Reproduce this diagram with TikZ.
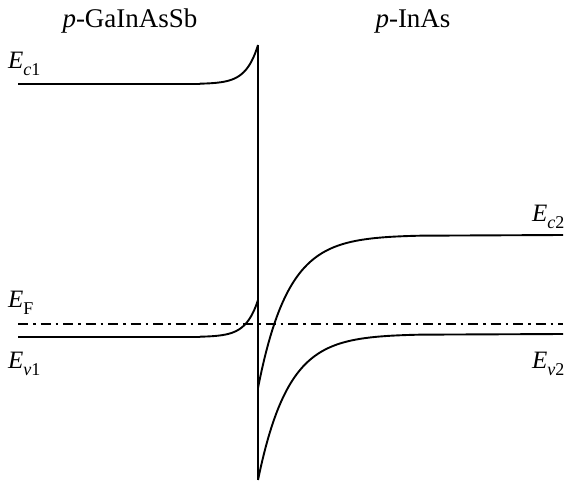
\documentclass[tikz,border=0pt]{standalone}
\usepackage{fontspec}
\setmainfont{Liberation Serif}
\newcommand\elab[2]{\textit{E}\raisebox{-0.28em}{\fontsize{18}{18}\selectfont #1#2}}
\begin{document}
\begin{tikzpicture}[x=1pt,y=-1pt,
  band/.style={line width=1.9pt, line join=round},
  iface/.style={line width=1.2pt},
  fermi/.style={line width=1.6pt, dash pattern=on 10pt off 5pt on 2.5pt off 5pt},
  title/.style={font=\fontsize{27}{27}\selectfont, anchor=base, inner sep=0pt},
  elabel/.style={font=\fontsize{25}{25}\selectfont, anchor=base west, inner sep=0pt}]
\useasboundingbox (0,0) rectangle (570,487);
% titles
\node[title] (t1) at (130,28) {\textit{p}-GaInAsSb};
\node[title] (t2) at (413,28) {\textit{p}-InAs};
% labels
\node[elabel] (ec1) at (8,68) {\elab{\textit{c}}{1}};
\node[elabel] (ef) at (8,307) {\elab{F}{}};
\node[elabel] (ev1) at (8,368) {\elab{\textit{v}}{1}};
\node[elabel] (ec2) at (532,221) {\elab{\textit{c}}{2}};
\node[elabel] (ev2) at (532,368) {\elab{\textit{v}}{2}};
% interface
\draw[iface] (258,45) -- (258,480);
\draw[line width=2.6pt] (258,300) -- (258,388);
% left bands
\draw[band] (18,84) -- (200,84) -- plot[domain=200:258, samples=50] (\x, {84-39*exp(-(258-\x)/12)});
\draw[band] (18,337) -- (200,337) -- plot[domain=200:258, samples=50] (\x, {337-37*exp(-(258-\x)/12)});
% right bands
\draw[band] plot[domain=258:420, samples=80] (\x, {235+153*exp(-(\x-258)/30)}) -- (563,235);
\draw[band] plot[domain=258:420, samples=80] (\x, {334+146*exp(-(\x-258)/30)}) -- (563,334);
% Fermi level
\draw[fermi] (18,324) -- (563,324);
\end{tikzpicture}
\end{document}
